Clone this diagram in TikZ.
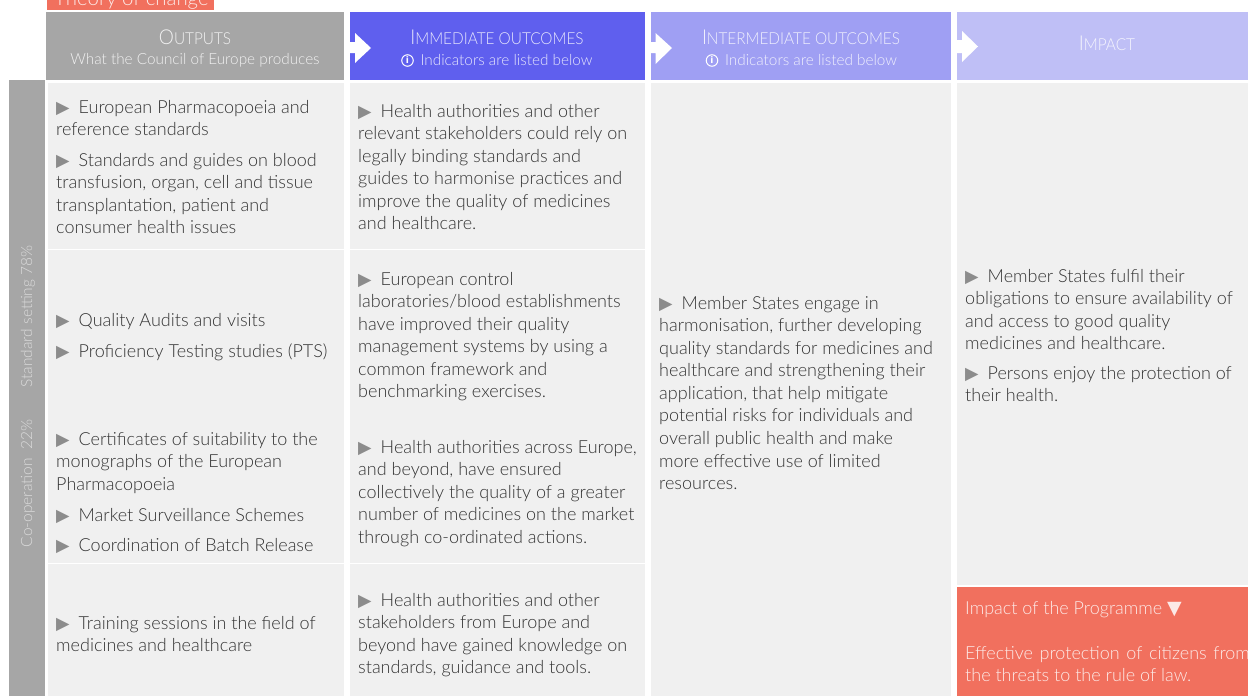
\documentclass[tikz,border=0pt]{standalone}
\usepackage{fontspec}
\setmainfont{Lato Light}
\newfontfamily\sym{DejaVu Sans}
\newfontfamily\cond[FakeStretch=0.93]{Lato Light}
\definecolor{hgray}{HTML}{A6A6A6}
\definecolor{hpurple}{HTML}{5F5FEE}
\definecolor{hmid}{HTML}{9F9FF3}
\definecolor{hlight}{HTML}{BFBFF6}
\definecolor{body}{HTML}{F0F0F0}
\definecolor{coral}{HTML}{F1705E}
\definecolor{ink}{HTML}{333333}
\definecolor{tri}{HTML}{8C8C8C}
\newcommand{\st}{\rule{0pt}{16pt}}
\newcommand{\bul}{\makebox[22.5pt][l]{\sym\fontsize{17.5}{14}\selectfont\textcolor{tri}{▶}}}
\newcommand{\hd}[2]{{\cond\fontsize{20.5}{20}\selectfont #1}{\cond\fontsize{16.5}{20}\selectfont #2}}
\tikzset{
  x=1pt,y=-1pt,
  para/.style={anchor=north west,inner sep=0pt,align=left,text=ink,font=\fontsize{18}{22.55}\selectfont},
  heading/.style={anchor=center,inner sep=0pt,align=center,text=white,text opacity=.85,font=\fontsize{15.3}{22}\selectfont},
  sidelabel/.style={anchor=center,inner sep=0pt,rotate=90,text=white,text opacity=.6,font=\fontsize{15.5}{18}\selectfont},
  wedge/.style={fill=white,draw=none},
  infoicon/.style={circle,draw=white,line width=1pt,inner sep=0pt,minimum size=11.5pt,text=white,font=\sym\bfseries\fontsize{9}{9}\selectfont},
  coraltext/.style={anchor=north west,inner sep=0pt,align=left,text=white,text opacity=.85,font=\fontsize{18}{22.55}\selectfont}
}
\begin{document}
\begin{tikzpicture}
\useasboundingbox (0,0) rectangle (1248,696);
\clip (0,0) rectangle (1248,696);
% title
\fill[coral] (47,-5) rectangle (214,10);
\node[anchor=base west,inner sep=0pt,text=white,text opacity=.85,font=\fontsize{20.4}{22}\selectfont] (title) at (54,5.5) {Theory of change};
% headers
\fill[hgray] (46,12) rectangle (344,80);
\fill[hpurple] (350,12) rectangle (645,80);
\fill[hmid] (651,12) rectangle (951,80);
\fill[hlight] (957,12) rectangle (1248,80);
% arrows
\fill[wedge] (350,42) -- (355,42) -- (355,33) -- (371,48) -- (355,63) -- (355,53) -- (350,53) -- cycle;
\fill[wedge] (651,42) -- (655.5,42) -- (655.5,33) -- (672,48) -- (655.5,64) -- (655.5,53) -- (651,53) -- cycle;
\fill[wedge] (957,40) -- (962,40) -- (962,31) -- (978,46.5) -- (962,62) -- (962,53) -- (957,53) -- cycle;
\node[heading] (h1) at (195,37) {\hd{O}{UTPUTS}};
\node[heading] (h1b) at (195,60) {What the Council of Europe produces};
\node[heading] (h2) at (497,37) {\hd{I}{MMEDIATE OUTCOMES}};
\node[heading] (h2b) at (506.5,60) {Indicators are listed below};
\node[infoicon] (i2) at (407.5,60.5) {i};
\node[heading] (h3) at (801,37) {\hd{I}{NTERMEDIATE OUTCOMES}};
\node[heading] (h3b) at (811,60) {Indicators are listed below};
\node[infoicon] (i3) at (712,60.5) {i};
\node[heading] (h4) at (1107,43) {\hd{I}{MPACT}};
% side bar
\fill[hgray] (9,80) rectangle (45,696);
\node[sidelabel] (s1) at (28,316.5) {Standard setting 78\%};
\node[sidelabel] (s2) at (28,483.5) {Co-operation\ \ 22\%};
% body
\fill[body] (48,83) rectangle (344,249);
\fill[body] (48,250) rectangle (344,563);
\fill[body] (48,564) rectangle (344,696);
\fill[body] (350,83) rectangle (645,249);
\fill[body] (350,250) rectangle (645,563);
\fill[body] (350,564) rectangle (645,696);
\fill[body] (651,83) rectangle (951,696);
\fill[body] (957,83) rectangle (1248,585);
\fill[coral] (957,587) rectangle (1248,696);
% col 1
\node[para] (a1) at (56,97) {\st\bul European Pharmacopoeia and\\reference standards};
\node[para] (a2) at (56,150) {\st\bul Standards and guides on blood\\transfusion, organ, cell and tissue\\transplantation, patient and\\consumer health issues};
\node[para] (a3) at (56,310) {\st\bul Quality Audits and visits};
\node[para] (a4) at (56,341) {\st\bul Proficiency Testing studies (PTS)};
\node[para] (a5) at (56,429) {\st\bul Certificates of suitability to the\\monographs of the European\\Pharmacopoeia};
\node[para] (a6) at (56,505) {\st\bul Market Surveillance Schemes};
\node[para] (a7) at (56,535) {\st\bul Coordination of Batch Release};
\node[para] (a8) at (56,613) {\st\bul Training sessions in the field of\\medicines and healthcare};
% col 2
\node[para] (b1) at (358,101) {\st\bul Health authorities and other\\relevant stakeholders could rely on\\legally binding standards and\\guides to harmonise practices and\\improve the quality of medicines\\and healthcare.};
\node[para] (b2) at (358,269) {\st\bul European control\\laboratories/blood establishments\\have improved their quality\\management systems by using a\\common framework and\\benchmarking exercises.};
\node[para] (b3) at (358,437) {\st\bul Health authorities across Europe,\\and beyond, have ensured\\collectively the quality of a greater\\number of medicines on the market\\through co-ordinated actions.};
\node[para] (b4) at (358,590) {\st\bul Health authorities and other\\stakeholders from Europe and\\beyond have gained knowledge on\\standards, guidance and tools.};
% col 3
\node[para] (c1) at (659,293) {\st\bul Member States engage in\\harmonisation, further developing\\quality standards for medicines and\\healthcare and strengthening their\\application, that help mitigate\\potential risks for individuals and\\overall public health and make\\more effective use of limited\\resources.};
% col 4
\node[para] (d1) at (965,266) {\st\bul Member States fulfil their\\obligations to ensure availability of\\and access to good quality\\medicines and healthcare.};
\node[para] (d2) at (965,363) {\st\bul Persons enjoy the protection of\\their health.};
\node[coraltext] (e1) at (965,598) {\st Impact of the Programme {\sym\fontsize{19}{15}\selectfont ▼}};
\node[coraltext] (e2) at (965,643) {\st {\spaceskip=6.6pt Effective protection of citizens from}\\the threats to the rule of law.};
\end{tikzpicture}
\end{document}
